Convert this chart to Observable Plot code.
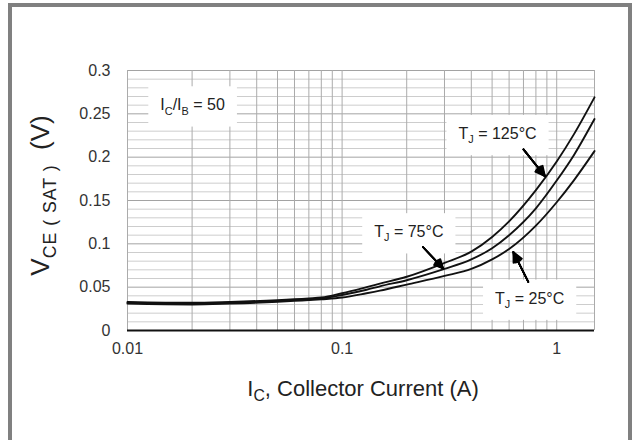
<!DOCTYPE html>
<html><head><meta charset="utf-8">
<script src="https://cdn.jsdelivr.net/npm/d3@7"></script>
<script src="https://cdn.jsdelivr.net/npm/@observablehq/plot@0.6"></script>
<style>
body{margin:0;background:#fff;}
#wrap{position:relative;width:634px;height:440px;overflow:hidden;background:#fff;}
#chart{position:absolute;left:0;top:0;}
#frame{position:absolute;left:8px;top:3px;width:616px;height:470px;border:4px solid #808080;pointer-events:none;}
</style></head><body>
<div id="wrap"><div id="chart"></div><div id="frame"></div></div>
<script>
// Collector current (A)
const current = [0.01, 0.02, 0.03, 0.05, 0.07, 0.08, 0.1, 0.13, 0.15, 0.2, 0.3, 0.4, 0.5, 0.6, 0.8, 1.0, 1.2, 1.5];
// VCE(SAT) (V) per junction temperature
const vce125 = [0.033, 0.032, 0.033, 0.035, 0.037, 0.038, 0.043, 0.050, 0.054, 0.062, 0.078, 0.091, 0.108, 0.126, 0.162, 0.195, 0.226, 0.269];
const vce75  = [0.032, 0.031, 0.032, 0.034, 0.036, 0.037, 0.041, 0.047, 0.051, 0.058, 0.071, 0.082, 0.095, 0.110, 0.141, 0.173, 0.202, 0.244];
const vce25  = [0.031, 0.030, 0.031, 0.033, 0.035, 0.036, 0.038, 0.043, 0.046, 0.053, 0.063, 0.071, 0.082, 0.094, 0.121, 0.148, 0.173, 0.207];
const seriesNames = ["125", "75", "25"];

// Axis ticks and labels
const xTickValues = [0.01, 0.1, 1];
const xTickLabels = ["0.01", "0.1", "1"];
const yTickValues = [0, 0.05, 0.1, 0.15, 0.2, 0.25, 0.3];
const yTickLabels = ["0", "0.05", "0.1", "0.15", "0.2", "0.25", "0.3"];
const xGrid = [0.01, 0.02, 0.03, 0.04, 0.05, 0.06, 0.07, 0.08, 0.09, 0.1, 0.2, 0.3, 0.4, 0.5, 0.6, 0.7, 0.8, 0.9, 1, 1.5];
const yMinorGrid = [0.01, 0.02, 0.03, 0.04, 0.06, 0.07, 0.08, 0.09, 0.11, 0.12, 0.13, 0.14, 0.16, 0.17, 0.18, 0.19, 0.21, 0.22, 0.23, 0.24, 0.26, 0.27, 0.28, 0.29];

// Annotations (data coordinates); {..} marks a subscript
const annotText = ["I{C}/I{B} = 50", "T{J} = 125°C", "T{J} = 75°C", "T{J} = 25°C"];
const annotX = [0.0201, 0.53, 0.2046, 0.748];
const annotY = [0.260, 0.227, 0.1136, 0.037];
const arrowFromX = [0.70, 0.238, 0.737];
const arrowFromY = [0.209, 0.0963, 0.056];
const arrowToX = [0.882, 0.296, 0.628];
const arrowToY = [0.178, 0.0715, 0.0905];

const xLabel = "I{C}, Collector Current (A)";
const yLabel = "V{CE ( SAT )}  (V)";

const rows = [vce125, vce75, vce25].flatMap((vs, k) => current.map((c, i) => ({I: c, V: vs[i], T: seriesNames[k]})));
const annots = annotText.map((t, i) => ({t, x: annotX[i], y: annotY[i]}));
const arrows = arrowFromX.map((d, i) => ({x1: d, y1: arrowFromY[i], x2: arrowToX[i], y2: arrowToY[i]}));

const font = "'Liberation Sans', Arial, Helvetica, sans-serif";
const fmt = (vals, labs) => d => { const i = vals.findIndex(v => Math.abs(v - d) < 1e-9); return i < 0 ? "" : labs[i]; };

const plot = Plot.plot({
  width: 634, height: 440,
  marginLeft: 127, marginRight: 40, marginTop: 70, marginBottom: 110,
  style: {fontFamily: font, background: "transparent", color: "#333"},
  x: {type: "log", domain: [0.01, 1.5]},
  y: {domain: [0, 0.3]},
  marks: [
    Plot.ruleY(yMinorGrid, {stroke: "#cdcdcd", strokeWidth: 1}),
    Plot.ruleY(yTickValues, {stroke: "#a3a3a3", strokeWidth: 1}),
    Plot.ruleX(xGrid, {stroke: "#ababab", strokeWidth: 1}),
    Plot.ruleY([0], {stroke: "#111", strokeWidth: 2.2}),
    Plot.line(rows, {x: "I", y: "V", z: "T", stroke: "#111", strokeWidth: 1.9, curve: "monotone-x"}),
    Plot.axisX({ticks: xTickValues, tickFormat: fmt(xTickValues, xTickLabels), tickSize: 0, tickPadding: 12, fontSize: 16, label: null, fill: "#333"}),
    Plot.axisY({ticks: yTickValues, tickFormat: fmt(yTickValues, yTickLabels), tickSize: 0, tickPadding: 17, fontSize: 16, label: null, fill: "#333"}),
    Plot.text([xLabel], {text: d => d, frameAnchor: "bottom", dy: 58, dx: 2, lineAnchor: "middle", textAnchor: "middle", fontSize: 22, fill: "#222", className: "xlab"}),
    Plot.text([yLabel], {text: d => d, frameAnchor: "left", dx: -87, dy: -5, rotate: -90, lineAnchor: "middle", textAnchor: "middle", fontSize: 26, fill: "#222", className: "ylab"}),
    Plot.text(annots, {x: "x", y: "y", text: "t", fontSize: 16, fill: "#222", className: "annot"}),
    ...[52, 40, 28, 16, 6].map(a => Plot.arrow(arrows, {x1: "x1", y1: "y1", x2: "x2", y2: "y2", stroke: "#000", strokeWidth: 1.7, headAngle: a, headLength: 9.5}))
  ]
});
document.getElementById("chart").append(plot);

// subscripts
const subScale = {xlab: 0.72, ylab: 0.68, annot: 0.68};
plot.querySelectorAll("text").forEach(el => {
  const s = el.textContent;
  if (!s.includes("{")) return;
  const g = el.closest("g");
  const cls = g && g.getAttribute("class") || "";
  const k = cls.includes("xlab") ? subScale.xlab : cls.includes("ylab") ? subScale.ylab : subScale.annot;
  const F = parseFloat(getComputedStyle(el).fontSize) || 16;
  const shift = 0.27 * F;
  el.textContent = "";
  const parts = s.split(/(\{[^}]*\})/).filter(p => p.length);
  let sub = false;
  parts.forEach(p => {
    const t = document.createElementNS("http://www.w3.org/2000/svg", "tspan");
    if (p.startsWith("{")) {
      t.textContent = p.slice(1, -1);
      t.setAttribute("font-size", (k * F).toFixed(1));
      t.setAttribute("dy", shift.toFixed(1));
      if (cls.includes("ylab")) t.setAttribute("letter-spacing", "1");
      sub = true;
    } else {
      t.textContent = p;
      if (sub) { t.setAttribute("dy", (-shift).toFixed(1)); sub = false; }
    }
    el.append(t);
  });
});
// white boxes behind annotation labels
plot.querySelectorAll(".annot text").forEach(el => {
  const b = el.getBBox();
  const r = document.createElementNS("http://www.w3.org/2000/svg", "rect");
  const px = 12, py = 10;
  r.setAttribute("x", b.x - px); r.setAttribute("y", b.y - py);
  r.setAttribute("width", b.width + 2 * px); r.setAttribute("height", b.height + 2 * py);
  r.setAttribute("fill", "#fff");
  const tr = el.getAttribute("transform");
  if (tr) r.setAttribute("transform", tr);
  el.parentNode.insertBefore(r, el);
});
</script>
</body></html>
